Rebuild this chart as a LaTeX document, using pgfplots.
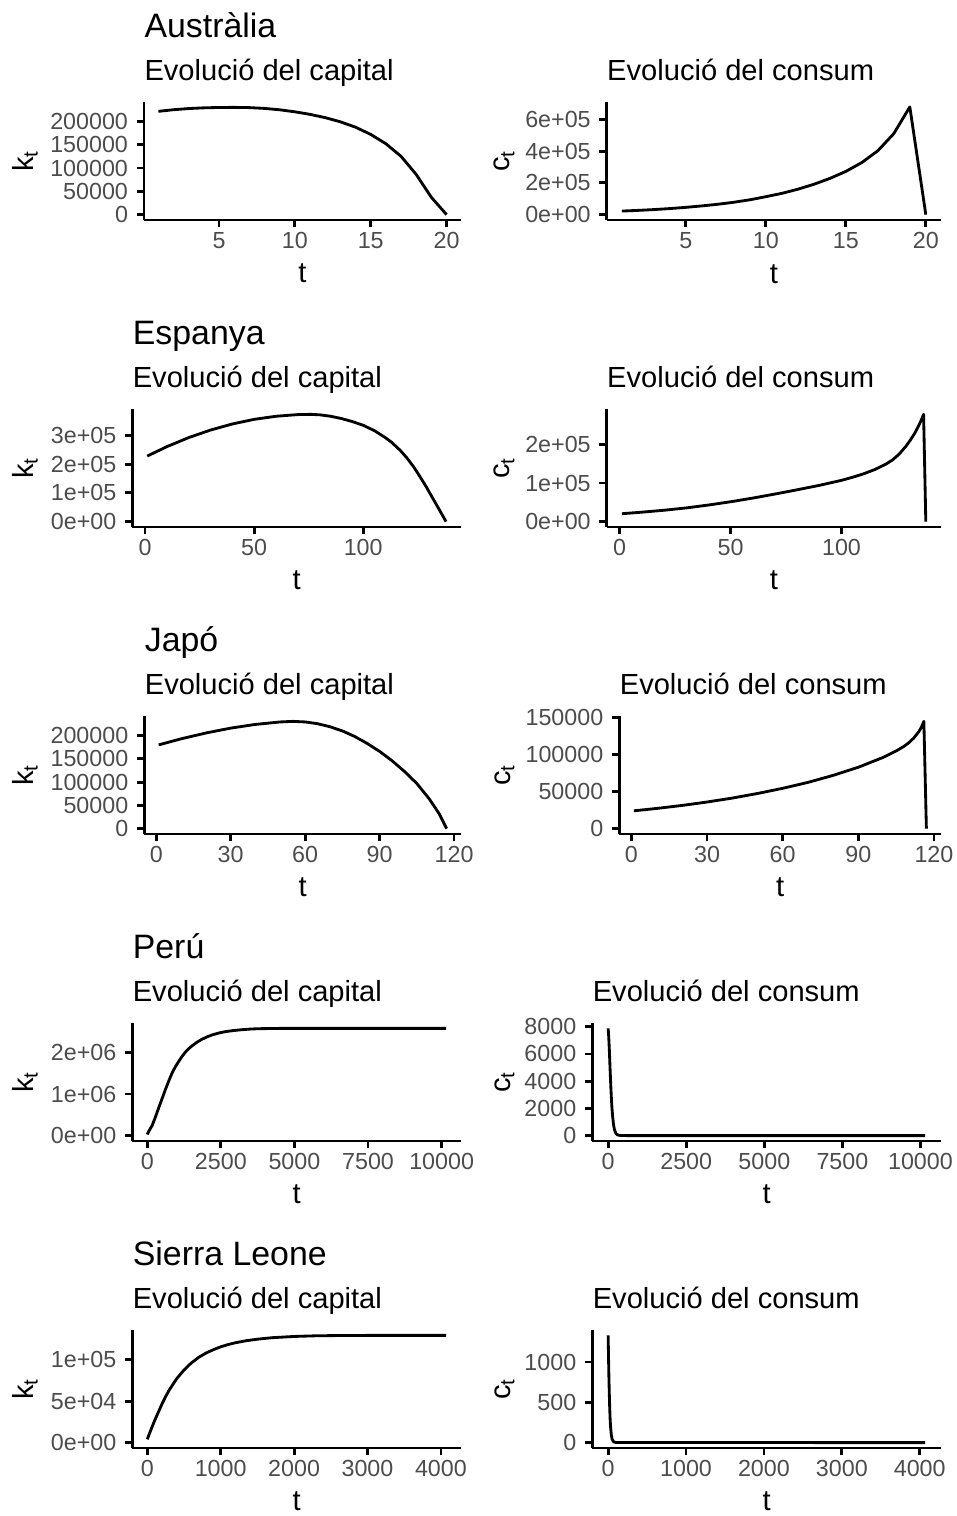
\documentclass[border=0pt]{standalone}
\usepackage{fontspec}
\setmainfont{Liberation Sans}
\usepackage{pgfplots}
\pgfplotsset{compat=1.18}
\definecolor{tickgray}{gray}{0.30}
\pgfplotsset{
  panel/.style={
    scale only axis,
    height=44.60pt,
    axis lines=left,
    axis line style={-, line width=1.07pt, black},
    tick align=outside,
    major tick length=2.75pt,
    every tick/.style={line width=1.07pt, black},
    scaled ticks=false,
    ticklabel style={font=\fontsize{8.8}{10}\selectfont, text=tickgray},
    xticklabel style={anchor=base, yshift=-7.95pt},
    yticklabel style={anchor=east, inner sep=0pt, xshift=-3.11pt},
    xlabel={t},
    xlabel style={at={(axis description cs:0.5,0)}, anchor=base, yshift=-23.81pt, font=\fontsize{11}{13}\selectfont},
    ylabel style={anchor=base, font=\fontsize{11}{13}\selectfont},
    title style={at={(axis description cs:0,1)}, anchor=base west, yshift=2.13pt, inner sep=0pt, font=\fontsize{11}{13}\selectfont},
  },
  curve/.style={black, line width=1.07pt, no markers, line join=round},
}
\newcommand{\ctitle}[2]{\node[anchor=base west, inner sep=0pt, font=\fontsize{12.8}{15}\selectfont] at ([yshift=24.57pt]#1.north west) {#2};}
\begin{document}
\begin{tikzpicture}
\useasboundingbox (0,0) rectangle (361.37pt,-573.05pt);
% ---------------- Row 1: Australia
\begin{axis}[panel, name=A1, at={(54.43pt,-38.56pt)}, anchor=north west, width=119.83pt,
  xmin=0.05, xmax=20.95, ymin=-11500, ymax=241500,
  xtick={5,10,15,20}, xticklabels={5,10,15,20},
  ytick={0,50000,100000,150000,200000}, yticklabels={0,50000,100000,150000,200000},
  title={Evolució del capital}, ylabel={k\textsubscript{t}},
  ylabel style={at={(axis description cs:-0.3492,0.5)}}]
\addplot[curve] coordinates {(1,221500) (2,225000) (3,227500) (4,229000) (5,229800) (6,230000) (7,229500) (8,227800) (9,224800) (10,220500) (11,215000) (12,208000) (13,199000) (14,187500) (15,172000) (16,152000) (17,125000) (18,86000) (19,37000) (20,0)};
\end{axis}
\ctitle{A1}{Austràlia}
\begin{axis}[panel, name=A2, at={(229.33pt,-38.56pt)}, anchor=north west, width=126.37pt,
  xmin=0.05, xmax=20.95, ymin=-33750, ymax=708750,
  xtick={5,10,15,20}, xticklabels={5,10,15,20},
  ytick={0,200000,400000,600000}, yticklabels={0e+00,2e+05,4e+05,6e+05},
  title={Evolució del consum}, ylabel={c\textsubscript{t}},
  ylabel style={at={(axis description cs:-0.2893,0.5)}}]
\addplot[curve] coordinates {(1,22500) (2,26800) (3,32000) (4,38300) (5,46000) (6,55000) (7,65500) (8,78000) (9,93500) (10,113000) (11,134000) (12,160000) (13,191000) (14,228000) (15,272000) (16,328000) (17,402000) (18,510000) (19,678000) (20,0)};
\end{axis}
% ---------------- Row 2: Espanya
\begin{axis}[panel, name=B1, at={(50.01pt,-154.60pt)}, anchor=north west, width=124.25pt,
  xmin=-5.85, xmax=144.85, ymin=-18650, ymax=391650,
  xtick={0,50,100}, xticklabels={0,50,100},
  ytick={0,100000,200000,300000}, yticklabels={0e+00,1e+05,2e+05,3e+05},
  title={Evolució del capital}, ylabel={k\textsubscript{t}},
  ylabel style={at={(axis description cs:-0.3012,0.5)}}]
\addplot[curve] coordinates {(1,228000) (10,260700) (20,292200) (30,318400) (40,339600) (50,355600) (60,366400) (70,372200) (76,373000) (80,371500) (85,366500) (90,358500) (95,348000) (100,335000) (105,317000) (110,293000) (113,276000) (117,247700) (120,222000) (123,192000) (126,157000) (129,120000) (132,80000) (135,40000) (138,0)};
\end{axis}
\ctitle{B1}{Espanya}
\begin{axis}[panel, name=B2, at={(229.33pt,-154.60pt)}, anchor=north west, width=126.37pt,
  xmin=-5.85, xmax=144.85, ymin=-13900, ymax=291900,
  xtick={0,50,100}, xticklabels={0,50,100},
  ytick={0,100000,200000}, yticklabels={0e+00,1e+05,2e+05},
  title={Evolució del consum}, ylabel={c\textsubscript{t}},
  ylabel style={at={(axis description cs:-0.2893,0.5)}}]
\addplot[curve] coordinates {(1,20500) (10,24500) (20,29500) (30,35500) (40,43000) (50,51500) (60,61000) (70,71500) (80,82500) (90,94000) (100,107000) (105,115000) (110,124000) (115,135000) (120,149000) (123,160000) (126,175000) (129,195000) (131,211000) (133,229000) (135,251000) (136,264000) (137,278000) (138,0)};
\end{axis}
% ---------------- Row 3: Japo
\begin{axis}[panel, name=C1, at={(54.55pt,-270.65pt)}, anchor=north west, width=119.71pt,
  xmin=-4.8, xmax=122.8, ymin=-11525, ymax=242025,
  xtick={0,30,60,90,120}, xticklabels={0,30,60,90,120},
  ytick={0,50000,100000,150000,200000}, yticklabels={0,50000,100000,150000,200000},
  title={Evolució del capital}, ylabel={k\textsubscript{t}},
  ylabel style={at={(axis description cs:-0.3505,0.5)}}]
\addplot[curve] coordinates {(1,180000) (10,193000) (20,205500) (30,216000) (40,224000) (50,229300) (55,230500) (60,229300) (65,225500) (70,219000) (75,210000) (80,198000) (85,183000) (90,166000) (95,146000) (100,123000) (105,97000) (110,64000) (114,32000) (117,0)};
\end{axis}
\ctitle{C1}{Japó}
\begin{axis}[panel, name=C2, at={(234.10pt,-270.65pt)}, anchor=north west, width=121.60pt,
  xmin=-4.8, xmax=122.8, ymin=-7250, ymax=152250,
  xtick={0,30,60,90,120}, xticklabels={0,30,60,90,120},
  ytick={0,50000,100000,150000}, yticklabels={0,50000,100000,150000},
  title={Evolució del consum}, ylabel={c\textsubscript{t}},
  ylabel style={at={(axis description cs:-0.3398,0.5)}}]
\addplot[curve] coordinates {(1,24100) (10,27300) (20,31300) (30,36000) (40,41300) (50,47500) (60,54500) (70,62500) (80,72000) (90,83000) (100,96500) (105,105000) (108,111000) (110,116000) (112,122500) (114,131000) (115,137000) (116,145000) (117,0)};
\end{axis}
% ---------------- Row 4: Peru
\begin{axis}[panel, name=D1, at={(50.01pt,-386.69pt)}, anchor=north west, width=124.25pt,
  xmin=-507.5, xmax=10657.5, ymin=-128850, ymax=2705850,
  xtick={0,2500,5000,7500,10000}, xticklabels={0,2500,5000,7500,10000},
  ytick={0,1000000,2000000}, yticklabels={0e+00,1e+06,2e+06},
  title={Evolució del capital}, ylabel={k\textsubscript{t}},
  ylabel style={at={(axis description cs:-0.3012,0.5)}}]
\addplot[curve] coordinates {(0,30000) (56,110000) (169,245000) (280,450000) (395,680000) (510,900000) (621,1115000) (735,1320000) (847,1510000) (960,1660000) (1072,1787000) (1185,1905000) (1298,2008000) (1410,2090000) (1524,2158000) (1690,2245000) (1862,2316000) (2030,2372000) (2201,2419000) (2420,2463000) (2652,2498000) (2930,2525000) (3217,2545000) (3500,2560000) (3781,2569000) (4500,2576000) (5500,2577000) (10150,2577000)};
\end{axis}
\ctitle{D1}{Perú}
\begin{axis}[panel, name=D2, at={(223.89pt,-386.69pt)}, anchor=north west, width=131.81pt,
  xmin=-507.5, xmax=10657.5, ymin=-394, ymax=8274,
  xtick={0,2500,5000,7500,10000}, xticklabels={0,2500,5000,7500,10000},
  ytick={0,2000,4000,6000,8000}, yticklabels={0,2000,4000,6000,8000},
  title={Evolució del consum}, ylabel={c\textsubscript{t}},
  ylabel style={at={(axis description cs:-0.2360,0.5)}}]
\addplot[curve] coordinates {(0,7880) (20,7200) (40,6200) (60,5000) (80,3900) (100,2900) (120,2100) (140,1500) (170,850) (200,450) (250,150) (300,50) (400,10) (600,2) (10150,0)};
\end{axis}
% ---------------- Row 5: Sierra Leone
\begin{axis}[panel, name=E1, at={(50.01pt,-502.74pt)}, anchor=north west, width=124.25pt,
  xmin=-203.5, xmax=4273.5, ymin=-6465, ymax=135765,
  xtick={0,1000,2000,3000,4000}, xticklabels={0,1000,2000,3000,4000},
  ytick={0,50000,100000}, yticklabels={0e+00,5e+04,1e+05},
  title={Evolució del capital}, ylabel={k\textsubscript{t}},
  ylabel style={at={(axis description cs:-0.3012,0.5)}}]
\addplot[curve] coordinates {(0,4000) (50,15500) (100,26500) (150,36500) (200,46500) (250,55500) (300,63500) (400,77000) (500,87500) (600,96000) (700,102800) (800,108000) (900,112000) (1000,115500) (1100,118200) (1200,120400) (1350,122900) (1500,124700) (1700,126500) (2000,128000) (2300,128800) (2700,129200) (3200,129300) (4070,129300)};
\end{axis}
\ctitle{E1}{Sierra Leone}
\begin{axis}[panel, name=E2, at={(223.89pt,-502.74pt)}, anchor=north west, width=131.81pt,
  xmin=-203.5, xmax=4273.5, ymin=-66.5, ymax=1396.5,
  xtick={0,1000,2000,3000,4000}, xticklabels={0,1000,2000,3000,4000},
  ytick={0,500,1000}, yticklabels={0,500,1000},
  title={Evolució del consum}, ylabel={c\textsubscript{t}},
  ylabel style={at={(axis description cs:-0.2360,0.5)}}]
\addplot[curve] coordinates {(0,1330) (5,1050) (10,800) (15,600) (20,430) (25,300) (30,210) (40,100) (50,45) (70,10) (100,2) (4070,0)};
\end{axis}
\end{tikzpicture}
\end{document}
